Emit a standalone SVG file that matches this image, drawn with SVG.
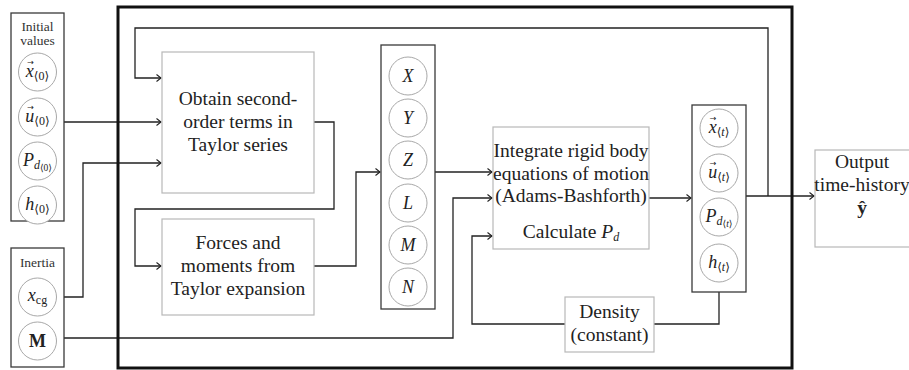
<svg xmlns="http://www.w3.org/2000/svg" width="909" height="370" viewBox="0 0 909 370">
<style>
.bg{fill:#fff}
.pbox{fill:#fff;stroke:#b8b8b8;stroke-width:1.2}
.gbox{fill:#fff;stroke:#3a3a3a;stroke-width:1.3}
.big{fill:none;stroke:#111;stroke-width:3}
.circ{fill:#fff;stroke:#a8a8a8;stroke-width:1}
.ln{fill:none;stroke:#222;stroke-width:1.3}
.t{font-family:"Liberation Serif","Times New Roman",serif;font-size:19.5px;fill:#222;text-anchor:middle}
.s{font-family:"Liberation Serif","Times New Roman",serif;font-size:13.5px;fill:#333;text-anchor:middle}
.m{font-family:"Liberation Serif","DejaVu Serif",serif;font-size:18px;fill:#222;text-anchor:middle}
.v{font-family:"DejaVu Sans",sans-serif;font-size:8px;fill:#222;text-anchor:middle}
.i{font-style:italic}
.sb{font-size:12px}
.ss{font-size:9.5px}
</style>
<defs>
<marker id="ar" markerUnits="userSpaceOnUse" markerWidth="10" markerHeight="10" refX="6" refY="5" orient="auto">
<path d="M1.5,1.5 L6,5 L1.5,8.5" fill="none" stroke="#222" stroke-width="1.1"/>
</marker>
</defs>
<rect class="bg" x="0" y="0" width="909" height="370"/>

<g id="connectors">
<path class="ln" d="M768,196 V28 H135 V78 H161" marker-end="url(#ar)"/>
<path class="ln" d="M746,196 H814" marker-end="url(#ar)"/>
<path class="ln" d="M64,122 H161" marker-end="url(#ar)"/>
<path class="ln" d="M57,297 H83 V163 H161" marker-end="url(#ar)"/>
<path class="ln" d="M57,338 H453 V198 H492" marker-end="url(#ar)"/>
<path class="ln" d="M314,122 H334 V209 H135 V266 H161" marker-end="url(#ar)"/>
<path class="ln" d="M314,266 H356 V172 H380" marker-end="url(#ar)"/>
<path class="ln" d="M435,172 H492" marker-end="url(#ar)"/>
<path class="ln" d="M649,198 H691" marker-end="url(#ar)"/>
<path class="ln" d="M719,292 V324 H472 V236 H492" marker-end="url(#ar)"/>
</g>

<rect class="big" x="118" y="7" width="674" height="361"/>

<g id="initial-values">
<rect class="gbox" x="11" y="13" width="53" height="208"/>
<text class="s" x="37.5" y="31">Initial</text>
<text class="s" x="37.5" y="45">values</text>
<circle class="circ" cx="37.5" cy="72" r="19"/>
<text class="m" x="37.5" y="77"><tspan class="i">x</tspan><tspan class="sb" dy="3">⟨0⟩</tspan></text>
<text class="v" x="30.5" y="65">→</text>
<circle class="circ" cx="37.5" cy="117" r="19"/>
<text class="m" x="37.5" y="122"><tspan class="i">u</tspan><tspan class="sb" dy="3">⟨0⟩</tspan></text>
<text class="v" x="30.5" y="110">→</text>
<circle class="circ" cx="37.5" cy="161" r="19"/>
<text class="m" x="37.5" y="166"><tspan class="i">P</tspan><tspan class="sb i" dy="3">d</tspan><tspan class="ss" dy="2">⟨0⟩</tspan></text>
<circle class="circ" cx="37.5" cy="205" r="19"/>
<text class="m" x="37.5" y="210"><tspan class="i">h</tspan><tspan class="sb" dy="3">⟨0⟩</tspan></text>
</g>

<g id="inertia">
<rect class="gbox" x="11" y="248" width="53" height="119"/>
<text class="s" x="37.5" y="267">Inertia</text>
<circle class="circ" cx="37.5" cy="297" r="19"/>
<text class="m" x="37.5" y="301"><tspan class="i">x</tspan><tspan class="sb" dy="3">cg</tspan></text>
<circle class="circ" cx="37.5" cy="341" r="19"/>
<text class="m" x="37.5" y="347" font-weight="bold">M</text>
</g>

<g id="obtain">
<rect class="pbox" x="162" y="52" width="152" height="141"/>
<text class="t" x="238" y="105">Obtain second-</text>
<text class="t" x="238" y="128">order terms in</text>
<text class="t" x="238" y="151">Taylor series</text>
</g>

<g id="forces">
<rect class="pbox" x="162" y="219" width="152" height="96"/>
<text class="t" x="238" y="249">Forces and</text>
<text class="t" x="238" y="272">moments from</text>
<text class="t" x="238" y="295">Taylor expansion</text>
</g>

<g id="forces-vector">
<rect class="gbox" x="381" y="45" width="54" height="264"/>
<circle class="circ" cx="408" cy="76" r="19"/>
<text class="m i" x="408" y="82">X</text>
<circle class="circ" cx="408" cy="118" r="19"/>
<text class="m i" x="408" y="124">Y</text>
<circle class="circ" cx="408" cy="160" r="19"/>
<text class="m i" x="408" y="166">Z</text>
<circle class="circ" cx="408" cy="203" r="19"/>
<text class="m i" x="408" y="209">L</text>
<circle class="circ" cx="408" cy="245" r="19"/>
<text class="m i" x="408" y="251">M</text>
<circle class="circ" cx="408" cy="287" r="19"/>
<text class="m i" x="408" y="293">N</text>
</g>

<g id="integrate">
<rect class="pbox" x="493" y="127" width="156" height="122"/>
<text class="t" x="571" y="157">Integrate rigid body</text>
<text class="t" x="571" y="180">equations of motion</text>
<text class="t" x="571" y="202">(Adams-Bashforth)</text>
<text class="t" x="571" y="238">Calculate <tspan class="i">P</tspan><tspan class="i" font-size="12px" dy="3">d</tspan></text>
</g>

<g id="density">
<rect class="pbox" x="565" y="297" width="89" height="55"/>
<text class="t" x="609.5" y="318">Density</text>
<text class="t" x="609.5" y="341">(constant)</text>
</g>

<g id="state-vector">
<rect class="gbox" x="692" y="105" width="54" height="187"/>
<circle class="circ" cx="719" cy="128" r="19"/>
<text class="m" x="719" y="133"><tspan class="i">x</tspan><tspan class="sb" dy="3">⟨<tspan class="i">t</tspan>⟩</tspan></text>
<text class="v" x="713" y="121">→</text>
<circle class="circ" cx="719" cy="173" r="19"/>
<text class="m" x="719" y="178"><tspan class="i">u</tspan><tspan class="sb" dy="3">⟨<tspan class="i">t</tspan>⟩</tspan></text>
<text class="v" x="713" y="166">→</text>
<circle class="circ" cx="719" cy="217" r="19"/>
<text class="m" x="719" y="222"><tspan class="i">P</tspan><tspan class="sb i" dy="3">d</tspan><tspan class="ss" dy="2">⟨<tspan class="i">t</tspan>⟩</tspan></text>
<circle class="circ" cx="719" cy="263" r="19"/>
<text class="m" x="719" y="268"><tspan class="i">h</tspan><tspan class="sb" dy="3">⟨<tspan class="i">t</tspan>⟩</tspan></text>
</g>

<g id="output">
<rect class="pbox" x="815" y="150" width="100" height="97"/>
<text class="t" x="862" y="168">Output</text>
<text class="t" x="862" y="191" font-size="19px">time-history</text>
<text class="t" x="862" y="214" font-weight="bold">ŷ</text>
</g>
</svg>
